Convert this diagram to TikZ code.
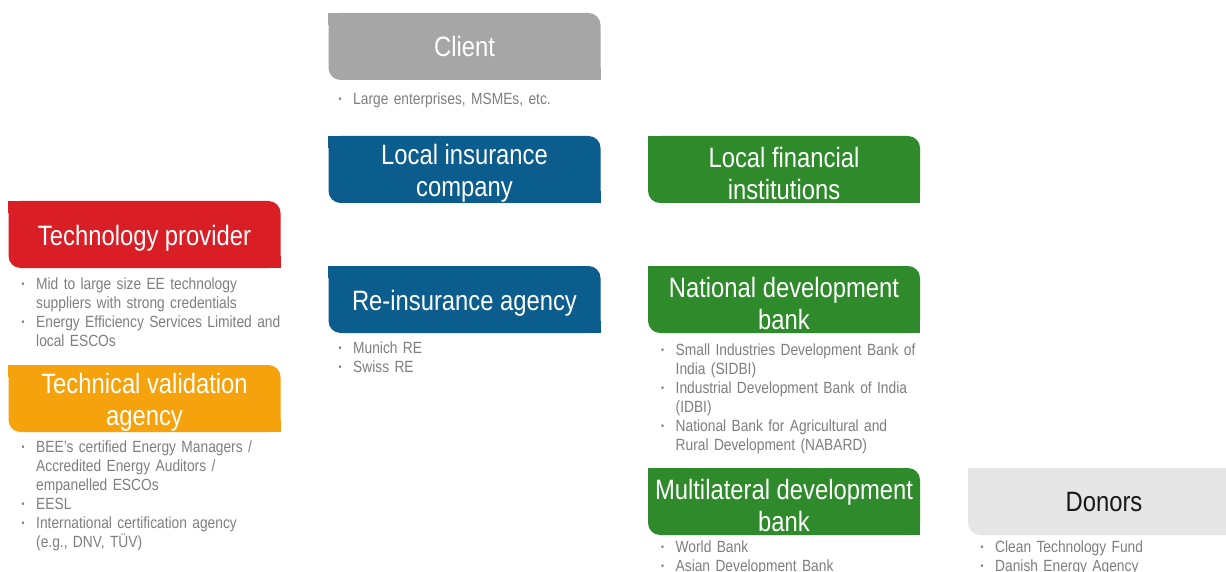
\documentclass[tikz,border=0pt]{standalone}
\usepackage{fontspec}
\setmainfont{Liberation Sans}[FakeStretch=0.85]
\definecolor{cgray}{HTML}{A6A6A6}
\definecolor{cblue}{HTML}{0B5D8E}
\definecolor{cgreen}{HTML}{2F8A2B}
\definecolor{cred}{HTML}{D91E26}
\definecolor{corange}{HTML}{F6A20C}
\definecolor{clight}{HTML}{E6E6E6}
\definecolor{cbul}{HTML}{7F7F7F}
\newcommand\bitem[1]{\par\noindent\hangindent=14.5pt\hangafter=1 \makebox[14.5pt][l]{\raisebox{0.25ex}{\fontsize{10}{10}\selectfont •}}#1\par}
\tikzset{
  hdr/.style={minimum width=272pt, minimum height=67pt, inner sep=0pt, rounded corners=12pt,
    fill=#1},
  htxt/.style={inner sep=0pt, align=center, font=\fontsize{28}{32}\selectfont, text=white},
  bul/.style={anchor=north west, inner sep=0pt, text width=320pt, text=cbul,
    font=\fontsize{16.2}{19}\selectfont},
}
\begin{document}
\begin{tikzpicture}[x=1pt,y=-1pt]
\useasboundingbox[fill=white] (0,0) rectangle (1226,572);
% header boxes
\node[hdr=cgray] (client) at (464.5,46.5) {};
\node[hdr=cblue] (lic) at (464.5,169.5) {};
\node[hdr=cgreen] (lfi) at (784,169.5) {};
\node[hdr=cred] (tp) at (144.5,234.5) {};
\node[hdr=corange] (tva) at (144.5,398.5) {};
\node[hdr=cblue] (ria) at (464.5,299.5) {};
\node[hdr=cgreen] (ndb) at (784,299.5) {};
\node[hdr=cgreen] (mdb) at (784,501.5) {};
\node[hdr=clight] (don) at (1104,501.5) {};
% sharp corners (top-left, bottom-right)
\foreach \n/\c in {client/cgray,lic/cblue,lfi/cgreen,tp/cred,tva/corange,ria/cblue,ndb/cgreen,mdb/cgreen,don/clight}{
  \fill[\c] (\n.north west) rectangle ++(12pt,-12pt);
  \fill[\c] (\n.south east) rectangle ++(-12pt,12pt);
}
% header texts
\node[htxt] (clientt) at (client.center) {Client};
\node[htxt] (lict) at ([yshift=-3.5pt]lic.center) {Local insurance\\company};
\node[htxt] (lfit) at ([yshift=-3.5pt]lfi.center) {Local financial\\institutions};
\node[htxt] (tpt) at ([yshift=-4pt]tp.center) {Technology provider};
\node[htxt] (tvat) at ([yshift=-3.5pt]tva.center) {Technical validation\\agency};
\node[htxt] (riat) at ([yshift=-3.5pt]ria.center) {Re-insurance agency};
\node[htxt] (ndbt) at ([yshift=-3.5pt]ndb.center) {National development\\bank};
\node[htxt] (mdbt) at ([yshift=-3.5pt]mdb.center) {Multilateral development\\bank};
\node[htxt, text=black!90] (dont) at ([yshift=-0.5pt]don.center) {Donors};
% bullet lists
\node[bul] (clientb) at (338.5,85) {\bitem{Large enterprises, MSMEs, etc.}};
\node[bul] (tpb) at (21.5,270.5) {\bitem{Mid to large size EE technology\newline suppliers with strong credentials}\bitem{Energy Efficiency Services Limited and\newline local ESCOs}};
\node[bul] (tvab) at (21.5,433.5) {\bitem{BEE’s certified Energy Managers /\newline Accredited Energy Auditors /\newline empanelled ESCOs}\bitem{EESL}\bitem{International certification agency\newline (e.g., DNV, TÜV)}};
\node[bul] (riab) at (338.5,334.5) {\bitem{Munich RE}\bitem{Swiss RE}};
\node[bul] (ndbb) at (661,336.5) {\bitem{Small Industries Development Bank of\newline India (SIDBI)}\bitem{Industrial Development Bank of India\newline (IDBI)}\bitem{National Bank for Agricultural and\newline Rural Development (NABARD)}};
\node[bul] (mdbb) at (661,533.5) {\bitem{World Bank}\bitem{Asian Development Bank}};
\node[bul] (donb) at (980.5,533.5) {\bitem{Clean Technology Fund}\bitem{Danish Energy Agency}};
\end{tikzpicture}
\end{document}
